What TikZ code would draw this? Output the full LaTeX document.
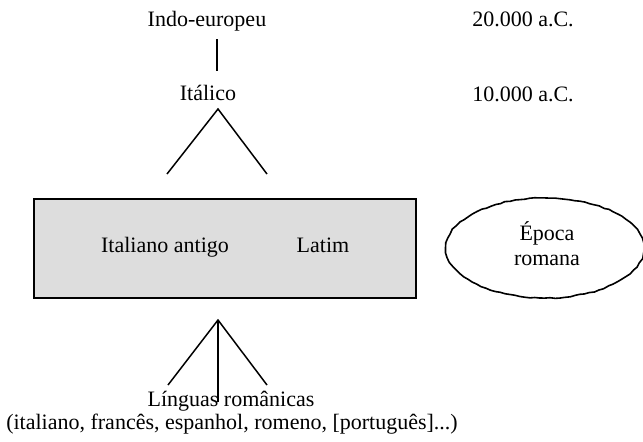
\documentclass[tikz,border=0pt]{standalone}
\usepackage{fontspec}
\setmainfont{Liberation Serif}
\usetikzlibrary{shapes.geometric,decorations.pathmorphing}
\definecolor{boxgray}{RGB}{221,221,221}
\begin{document}
\begin{tikzpicture}[x=1pt,y=-1pt,
  lbl/.style={inner sep=0pt,anchor=base,font=\fontsize{22}{25}\selectfont},
  branch/.style={line width=1.5pt,line cap=butt},
  era/.style={draw,line width=1.6pt,ellipse,inner sep=0pt,
    minimum width=198pt,minimum height=100pt,
    decorate,decoration={random steps,segment length=5pt,amplitude=0.6pt}},
  stage/.style={draw,line width=1.8pt,fill=boxgray,rectangle,inner sep=0pt}]
\useasboundingbox (0,0) rectangle (643,442);

% dates column
\node[lbl] (d20) at (523,26) {20.000 a.C.};
\node[lbl] (d10) at (523,101) {10.000 a.C.};

% upper part of the family tree
\node[lbl] (indo) at (207,26) {Indo-europeu};
\node[lbl] (ital) at (208,100) {Itálico};

% Roman period stage
\node[stage,minimum width=382pt,minimum height=99pt] (stage) at (225,248.5) {};
\node[lbl] (antigo) at (165,252) {Italiano antigo};
\node[lbl] (latim) at (323,252) {Latim};

\node[era] (epoca) at (545,248) {};
\node[lbl] (ep1) at (547,240) {Época};
\node[lbl] (ep2) at (547,265) {romana};

% descendants
\node[lbl] (rom1) at (231,406) {Línguas românicas};
\node[lbl] (rom2) at (232,429) {(italiano, francês, espanhol, romeno, [português]...)};

% branch points
\coordinate (t1) at (217,39);
\coordinate (t2) at (217,71);
\coordinate (a1) at (218,109);
\coordinate (l1) at (167,174);
\coordinate (r1) at (267,174);
\coordinate (a2) at (218,320);
\coordinate (l2) at (168,385);
\coordinate (r2) at (267,385);
\coordinate (m2) at (218,402);

\draw[branch] (t1) -- (t2);
\draw[branch] (l1) -- (a1) -- (r1);
\draw[branch] (l2) -- (a2) -- (r2);
\draw[branch] (a2) -- (m2);
\end{tikzpicture}
\end{document}
